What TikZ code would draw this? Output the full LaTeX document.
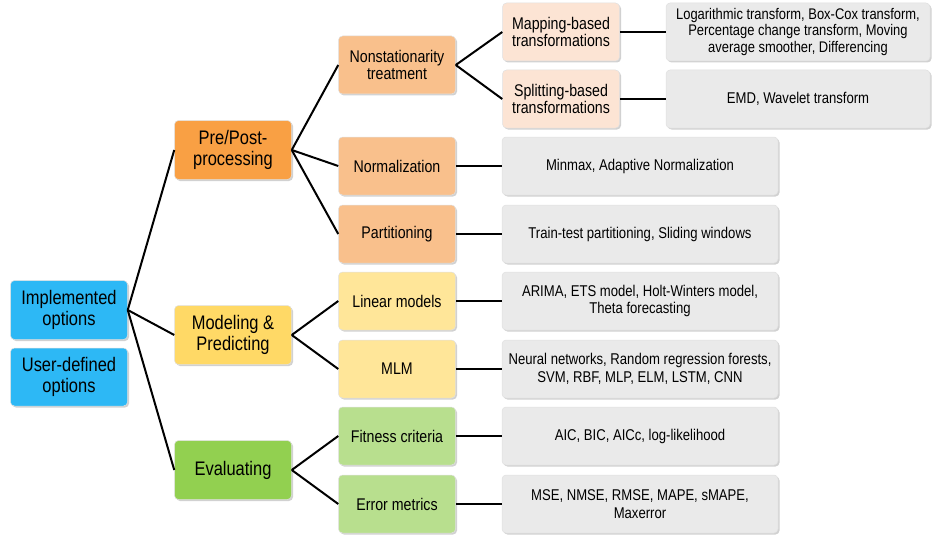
\documentclass[tikz,border=0pt]{standalone}
\usepackage{fontspec}
\setmainfont{Liberation Sans}[FakeStretch=0.84]
\usetikzlibrary{shadows}
\definecolor{cblue}{HTML}{2DB8F5}
\definecolor{corange}{HTML}{F9A044}
\definecolor{corangel}{HTML}{F9C08C}
\definecolor{cpeach}{HTML}{FCE4D4}
\definecolor{cyellow}{HTML}{FFD966}
\definecolor{cyellowl}{HTML}{FFE699}
\definecolor{cgreen}{HTML}{92D050}
\definecolor{cgreenl}{HTML}{B8DF8E}
\definecolor{cgrey}{HTML}{EAEAEA}
\tikzset{
  box/.style={rounded corners=4pt, align=center, inner sep=1pt, text=black,
    draw=black!12, line width=0.5pt,
    drop shadow={shadow xshift=1.5pt, shadow yshift=-1.5pt, fill=black!45, opacity=0.4}},
  lvlone/.style={box, minimum width=117pt, minimum height=59pt, font=\fontsize{19.6}{20.5}\selectfont},
  lvltwo/.style={box, minimum width=117pt, minimum height=58pt, font=\fontsize{16.9}{17}\selectfont},
  greybox/.style={box, fill=cgrey, minimum width=276pt, minimum height=58pt, font=\fontsize{15.6}{17.7}\selectfont},
  conn/.style={line width=2pt, black},
}
\begin{document}
\begin{tikzpicture}[x=1pt,y=-1pt]
\useasboundingbox (0,0) rectangle (935,535);
% level 0
\node[lvlone, fill=cblue, minimum height=59pt] (impl) at (69,310) {Implemented\\options};
\node[lvlone, fill=cblue, minimum height=58pt] (user) at (69,377) {User-defined\\options};
% level 1
\node[lvlone, fill=corange] (pre) at (233,150) {Pre/Post-\\processing};
\node[lvlone, fill=cyellow] (model) at (233,335) {Modeling \&\\Predicting};
\node[lvlone, fill=cgreen] (eval) at (233,470) {Evaluating};
% level 2
\node[lvltwo, fill=corangel] (nonstat) at (397,65) {Nonstationarity\\treatment};
\node[lvltwo, fill=corangel] (norm) at (397,166) {Normalization};
\node[lvltwo, fill=corangel] (part) at (397,234) {Partitioning};
\node[lvltwo, fill=cyellowl] (lin) at (397,301) {Linear models};
\node[lvltwo, fill=cyellowl] (mlm) at (397,369) {MLM};
\node[lvltwo, fill=cgreenl] (fit) at (397,436) {Fitness criteria};
\node[lvltwo, fill=cgreenl] (err) at (397,504) {Error metrics};
% level 3
\node[lvltwo, fill=cpeach] (map) at (561,32) {Mapping-based\\transformations};
\node[lvltwo, fill=cpeach] (split) at (561,99) {Splitting-based\\transformations};
% grey boxes
\node[greybox, minimum width=264pt, font=\fontsize{15.4}{16.6}\selectfont] (mapg) at (798,32) {Logarithmic transform, Box-Cox transform,\\Percentage change transform, Moving\\average smoother, Differencing};
\node[greybox, minimum width=264pt] (splitg) at (798,99) {EMD, Wavelet transform};
\node[greybox] (normg) at (640,166) {Minmax, Adaptive Normalization};
\node[greybox] (partg) at (640,234) {Train-test partitioning, Sliding windows};
\node[greybox] (ling) at (640,301) {ARIMA, ETS model, Holt-Winters model,\\Theta forecasting};
\node[greybox] (mlmg) at (640,369) {Neural networks, Random regression forests,\\SVM, RBF, MLP, ELM, LSTM, CNN};
\node[greybox] (fitg) at (640,436) {AIC, BIC, AICc, log-likelihood};
\node[greybox] (errg) at (640,504) {MSE, NMSE, RMSE, MAPE, sMAPE,\\Maxerror};
% connectors
\draw[conn] (impl.east) -- (pre.west);
\draw[conn] (impl.east) -- (model.west);
\draw[conn] (impl.east) -- (eval.west);
\draw[conn] (pre.east) -- (nonstat.west);
\draw[conn] (pre.east) -- (norm.west);
\draw[conn] (pre.east) -- (part.west);
\draw[conn] (model.east) -- (lin.west);
\draw[conn] (model.east) -- (mlm.west);
\draw[conn] (eval.east) -- (fit.west);
\draw[conn] (eval.east) -- (err.west);
\draw[conn] (nonstat.east) -- (map.west);
\draw[conn] (nonstat.east) -- (split.west);
\draw[conn] (map.east) -- (mapg.west);
\draw[conn] (split.east) -- (splitg.west);
\draw[conn] (norm.east) -- (normg.west);
\draw[conn] (part.east) -- (partg.west);
\draw[conn] (lin.east) -- (ling.west);
\draw[conn] (mlm.east) -- (mlmg.west);
\draw[conn] (fit.east) -- (fitg.west);
\draw[conn] (err.east) -- (errg.west);
\end{tikzpicture}
\end{document}
